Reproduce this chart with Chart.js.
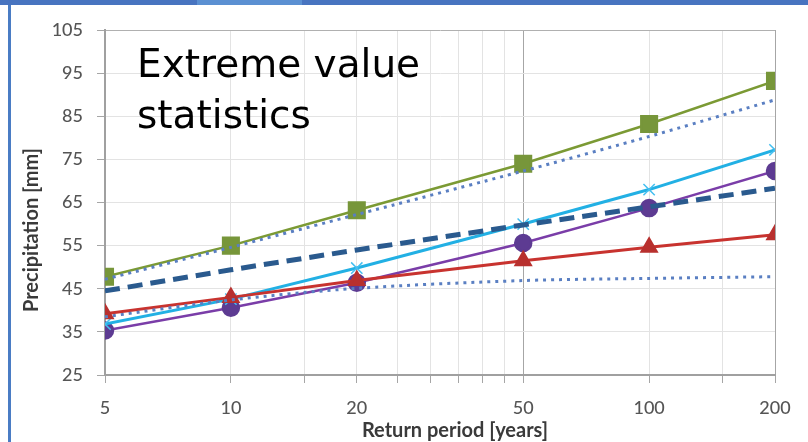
<!DOCTYPE html>
<html>
<head>
<meta charset="utf-8">
<script src="https://cdn.jsdelivr.net/npm/chart.js@4/dist/chart.umd.min.js"></script>
<style>
  html, body { margin: 0; padding: 0; background: #fff; }
  #wrap { position: relative; width: 808px; height: 442px; overflow: hidden; }
  #chart { position: absolute; left: 0; top: 0; }
  .bar-top { position: absolute; left: 0; top: 0; width: 808px; height: 5px; background: #4874c0; }
  .bar-top-light { position: absolute; left: 197px; top: 0; width: 105px; height: 5px; background: #5b90d2; }
  .bar-left { position: absolute; left: 8px; top: 5px; width: 3px; height: 437px; background: #4a7cc4; }
</style>
</head>
<body>
<div id="wrap">
  <canvas id="chart" width="808" height="442"></canvas>
  <div class="bar-top"></div>
  <div class="bar-top-light"></div>
  <div class="bar-left"></div>
</div>
<script>
// return periods (years)
const returnPeriods = [5, 10, 20, 50, 100, 200];
// gridline positions on the log axis, and the ones that get a label
const gridTicks = [5, 10, 15, 20, 25, 30, 35, 40, 45, 50, 100, 150, 200];
const labelledTicks = [5, 10, 20, 50, 100, 200];

// precipitation [mm]
const greenSquares = [47.8, 55, 63.2, 74, 83.2, 93.2];
const upperDotted = [47.2, 54.6, 62.2, 72.3, 80.3, 88.8];
const blueDashed = [44.5, 49.4, 54, 59.8, 64, 68.3];
const cyanCross = [36.8, 42.6, 49.8, 60, 68, 77.2];
const purpleCircles = [35.3, 40.6, 46.4, 55.6, 63.7, 72.3];
const redTriangles = [39.2, 43, 46.9, 51.5, 54.6, 57.5];
const lowerDotted = [38.5, 42.4, 45.1, 46.9, 47.4, 47.8];

function pts(vals) {
  return returnPeriods.map((x, i) => ({ x: x, y: vals[i] }));
}

// text drawn on the canvas: the heading inside the plot and both axis titles
const textPlugin = {
  id: 'texts',
  afterDraw(chart) {
    const c = chart.ctx;
    const area = chart.chartArea;
    c.save();
    c.fillStyle = '#000';
    c.font = '39px "DejaVu Sans"';
    c.textAlign = 'left';
    c.textBaseline = 'alphabetic';
    c.fillText('Extreme value', area.left + 32, area.top + 47);
    c.fillText('statistics', area.left + 32, area.top + 98);

    c.fillStyle = '#3a3a3a';
    c.font = 'bold 20px Lato';
    c.textAlign = 'center';
    c.textBaseline = 'middle';
    c.fillText('Return period [years]', 455, 431);
    c.translate(32, 230);
    c.rotate(-Math.PI / 2);
    c.fillText('Precipitation [mm]', 0, 0);
    c.restore();
  }
};

const ctx = document.getElementById('chart').getContext('2d');
new Chart(ctx, {
  type: 'line',
  data: {
    datasets: [
      {
        data: pts(upperDotted), borderColor: '#5a7fc2', borderWidth: 3,
        borderDash: [3, 5], pointRadius: 0, tension: 0.2
      },
      {
        data: pts(lowerDotted), borderColor: '#5a7fc2', borderWidth: 3,
        borderDash: [3, 5], pointRadius: 0, tension: 0.3
      },
      {
        data: pts(blueDashed), borderColor: '#2a5a8e', borderWidth: 5,
        borderDash: [15, 8], pointRadius: 0
      },
      {
        data: pts(redTriangles), borderColor: '#c8332f', borderWidth: 3,
        pointStyle: 'triangle', pointRadius: 8,
        pointBackgroundColor: '#b8302e', pointBorderColor: '#b8302e'
      },
      {
        data: pts(cyanCross), borderColor: '#22b0e4', borderWidth: 3,
        pointStyle: 'crossRot', pointRadius: 8, pointBorderWidth: 1.5,
        pointBorderColor: '#44bff0'
      },
      {
        data: pts(purpleCircles), borderColor: '#7a3da8', borderWidth: 2.5,
        pointStyle: 'circle', pointRadius: 8,
        pointBackgroundColor: '#5d3b92', pointBorderColor: '#5d3b92'
      },
      {
        data: pts(greenSquares), borderColor: '#7b9a34', borderWidth: 2.5,
        pointStyle: 'rect', pointRadius: 11,
        pointBackgroundColor: '#77963a', pointBorderColor: '#77963a'
      }
    ]
  },
  options: {
    responsive: false,
    animation: false,
    layout: { padding: { top: 30, right: 33, left: 0, bottom: 0 } },
    plugins: { legend: { display: false }, tooltip: { enabled: false } },
    scales: {
      x: {
        type: 'logarithmic',
        min: 5,
        max: 200,
        afterBuildTicks: (scale) => {
          scale.ticks = gridTicks.map(v => ({ value: v }));
        },
        afterFit: (scale) => { scale.height = 67; },
        ticks: {
          autoSkip: false,
          maxRotation: 0,
          padding: 14,
          color: '#555555',
          font: { family: 'Lato', size: 18, weight: '500' },
          callback: (v) => labelledTicks.includes(v) ? String(v) : ''
        },
        grid: {
          tickLength: 8,
          lineWidth: 1,
          color: (c) => {
            const v = c.tick && c.tick.value;
            if (v === 50) return '#a6a6a6';
            if (v === 200) return '#a6a6a6';
            return '#e3e3e3';
          },
          tickColor: '#a6a6a6'
        },
        border: { color: '#a0a0a0', width: 2 }
      },
      y: {
        min: 25,
        max: 105,
        afterFit: (scale) => { scale.width = 105; },
        ticks: {
          stepSize: 10,
          padding: 14,
          color: '#555555',
          font: { family: 'Lato', size: 18, weight: '500' }
        },
        grid: {
          tickLength: 8,
          color: (c) => (c.tick && c.tick.value === 105) ? '#b0b0b0' : '#e3e3e3',
          tickColor: '#a6a6a6'
        },
        border: { color: '#a0a0a0', width: 2 }
      }
    }
  },
  plugins: [textPlugin]
});
</script>
</body>
</html>
